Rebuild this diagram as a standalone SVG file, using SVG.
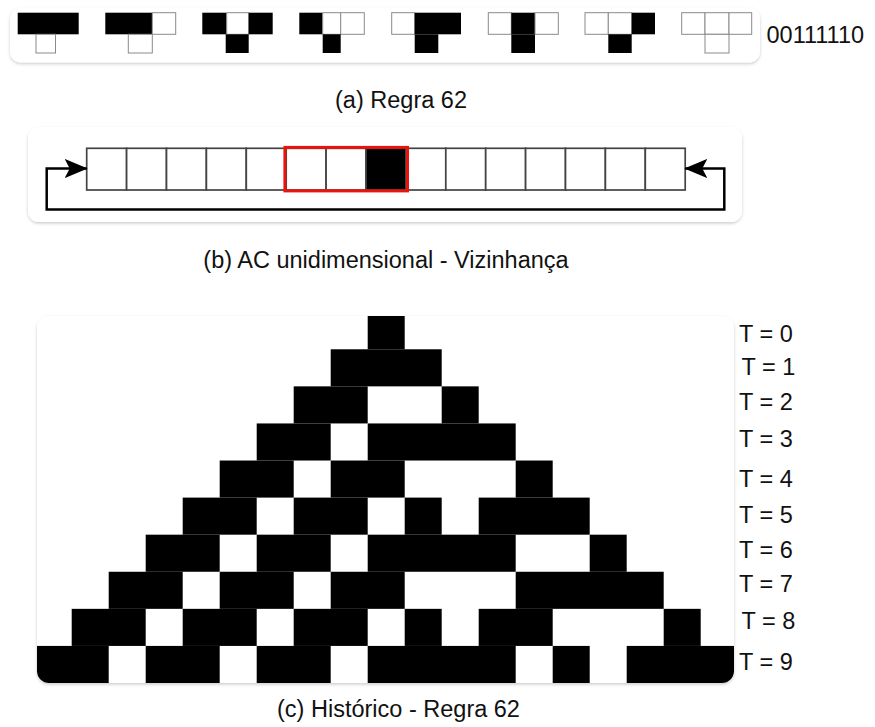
<svg xmlns="http://www.w3.org/2000/svg" width="875" height="727" viewBox="0 0 875 727">
<defs>
<style>
text{font-family:"Liberation Sans",Arial,sans-serif;font-size:23.5px;fill:#111}
.card{fill:#fff;filter:url(#sh)}
.w{fill:#fff;stroke:#8a8a8a;stroke-width:1}
.k{fill:#000}
.bc{fill:#fff;stroke:#444;stroke-width:1.7}
.g rect{fill:#000}
</style>
<filter id="sh" x="-5%" y="-10%" width="110%" height="125%">
<feDropShadow dx="0" dy="1.5" stdDeviation="1.8" flood-color="#000" flood-opacity="0.2"/>
</filter>
<marker id="ah" viewBox="0 0 23 19" refX="22" refY="9.5" markerWidth="23" markerHeight="19" markerUnits="userSpaceOnUse" orient="auto-start-reverse">
<path d="M0,0 L23,9.5 L0,19 L5,9.5 z" fill="#000"/>
</marker>
<clipPath id="cc"><rect x="37" y="316" width="697" height="367" rx="12"/></clipPath>
</defs>
<rect width="875" height="727" fill="#fff"/>

<g id="panel-a">
<rect class="card" x="10" y="7.5" width="750" height="55" rx="11"/>
<g id="p111">
<rect class="k" x="17.7" y="12.7" width="61" height="21.6"/>
<rect class="w" x="36" y="34.3" width="19.5" height="18.7"/>
</g>
<g id="p110">
<rect class="k" x="105.3" y="12.7" width="47" height="21.6"/>
<rect class="w" x="152.3" y="12.7" width="23.4" height="21.6"/>
<rect class="w" x="128.3" y="34.3" width="24" height="18.7"/>
</g>
<g id="p101">
<rect class="k" x="202.3" y="12.7" width="24.4" height="21.6"/>
<rect class="w" x="226.7" y="12.7" width="22" height="21.6"/>
<rect class="k" x="248.7" y="12.7" width="24" height="21.6"/>
<rect class="k" x="225.7" y="34.3" width="23" height="18.7"/>
</g>
<g id="p100">
<rect class="k" x="299.3" y="12.7" width="23.4" height="21.6"/>
<rect class="w" x="322.7" y="12.7" width="18" height="21.6"/>
<rect class="w" x="340.7" y="12.7" width="23.6" height="21.6"/>
<rect class="k" x="322.7" y="34.3" width="18" height="18.7"/>
</g>
<g id="p011">
<rect class="w" x="391.7" y="12.7" width="23" height="21.6"/>
<rect class="k" x="414.7" y="12.7" width="46.3" height="21.6"/>
<rect class="k" x="414.7" y="34.3" width="23.6" height="18.7"/>
</g>
<g id="p010">
<rect class="w" x="488.3" y="12.7" width="23" height="21.6"/>
<rect class="k" x="511.3" y="12.7" width="23.7" height="21.6"/>
<rect class="w" x="535" y="12.7" width="23.3" height="21.6"/>
<rect class="k" x="511.3" y="34.3" width="23.7" height="18.7"/>
</g>
<g id="p001">
<rect class="w" x="585" y="12.7" width="23.3" height="21.6"/>
<rect class="w" x="608.3" y="12.7" width="23.4" height="21.6"/>
<rect class="k" x="631.7" y="12.7" width="23.3" height="21.6"/>
<rect class="k" x="608.3" y="34.3" width="23.4" height="18.7"/>
</g>
<g id="p000">
<rect class="w" x="681.7" y="12.7" width="23.3" height="21.6"/>
<rect class="w" x="705" y="12.7" width="24" height="21.6"/>
<rect class="w" x="729" y="12.7" width="22.7" height="21.6"/>
<rect class="w" x="705" y="34.3" width="24" height="18.7"/>
</g>
<text x="766.5" y="42.5">00111110</text>
<text x="401" y="107.5" text-anchor="middle">(a) Regra 62</text>
</g>

<g id="panel-b">
<rect class="card" x="28" y="127" width="714" height="95" rx="11"/>
<g id="cells">
<rect class="bc" x="86.7" y="148.3" width="39.9" height="41.7"/>
<rect class="bc" x="126.6" y="148.3" width="39.9" height="41.7"/>
<rect class="bc" x="166.5" y="148.3" width="39.9" height="41.7"/>
<rect class="bc" x="206.4" y="148.3" width="39.9" height="41.7"/>
<rect class="bc" x="246.3" y="148.3" width="39.9" height="41.7"/>
<rect class="bc" x="286.2" y="148.3" width="39.9" height="41.7"/>
<rect class="bc" x="326.1" y="148.3" width="39.9" height="41.7"/>
<rect class="bc" x="366" y="148.3" width="39.9" height="41.7" style="fill:#000"/>
<rect class="bc" x="405.9" y="148.3" width="39.9" height="41.7"/>
<rect class="bc" x="445.8" y="148.3" width="39.9" height="41.7"/>
<rect class="bc" x="485.7" y="148.3" width="39.9" height="41.7"/>
<rect class="bc" x="525.6" y="148.3" width="39.9" height="41.7"/>
<rect class="bc" x="565.5" y="148.3" width="39.9" height="41.7"/>
<rect class="bc" x="605.4" y="148.3" width="39.9" height="41.7"/>
<rect class="bc" x="645.3" y="148.3" width="39.9" height="41.7"/>
</g>
<rect id="neighbourhood" x="284.9" y="147.4" width="122.6" height="43.5" fill="none" stroke="#e8150e" stroke-width="3"/>
<text x="386" y="267.5" text-anchor="middle">(b) AC unidimensional - Vizinhança</text>
</g>

<g id="connectors">
<path d="M86.7,168.5 H46.7 V209.5 H724.3 V168.5 H685.3" fill="none" stroke="#000" stroke-width="2.5" marker-start="url(#ah)" marker-end="url(#ah)"/>
</g>

<g id="panel-c">
<rect class="card" x="37" y="316" width="697" height="367" rx="12"/>
<g class="g" clip-path="url(#cc)">
<g id="t0"><rect x="367.7" y="312.2" width="37" height="37.08"/></g>
<g id="t1"><rect x="330.7" y="349.28" width="111" height="37.08"/></g>
<g id="t2"><rect x="293.7" y="386.36" width="74" height="37.08"/><rect x="441.7" y="386.36" width="37" height="37.08"/></g>
<g id="t3"><rect x="256.7" y="423.44" width="74" height="37.08"/><rect x="367.7" y="423.44" width="148" height="37.08"/></g>
<g id="t4"><rect x="219.7" y="460.52" width="74" height="37.08"/><rect x="330.7" y="460.52" width="74" height="37.08"/><rect x="515.7" y="460.52" width="37" height="37.08"/></g>
<g id="t5"><rect x="182.7" y="497.6" width="74" height="37.08"/><rect x="293.7" y="497.6" width="74" height="37.08"/><rect x="404.7" y="497.6" width="37" height="37.08"/><rect x="478.7" y="497.6" width="111" height="37.08"/></g>
<g id="t6"><rect x="145.7" y="534.68" width="74" height="37.08"/><rect x="256.7" y="534.68" width="74" height="37.08"/><rect x="367.7" y="534.68" width="148" height="37.08"/><rect x="589.7" y="534.68" width="37" height="37.08"/></g>
<g id="t7"><rect x="108.7" y="571.76" width="74" height="37.08"/><rect x="219.7" y="571.76" width="74" height="37.08"/><rect x="330.7" y="571.76" width="74" height="37.08"/><rect x="515.7" y="571.76" width="148" height="37.08"/></g>
<g id="t8"><rect x="71.7" y="608.84" width="74" height="37.08"/><rect x="182.7" y="608.84" width="74" height="37.08"/><rect x="293.7" y="608.84" width="74" height="37.08"/><rect x="404.7" y="608.84" width="37" height="37.08"/><rect x="478.7" y="608.84" width="74" height="37.08"/><rect x="663.7" y="608.84" width="37" height="37.08"/></g>
<g id="t9"><rect x="34.7" y="645.92" width="74" height="37.08"/><rect x="145.7" y="645.92" width="74" height="37.08"/><rect x="256.7" y="645.92" width="74" height="37.08"/><rect x="367.7" y="645.92" width="148" height="37.08"/><rect x="552.7" y="645.92" width="37" height="37.08"/><rect x="626.7" y="645.92" width="111" height="37.08"/></g>
</g>
<g id="time-labels">
<text x="739" y="342">T = 0</text>
<text x="741.5" y="375">T = 1</text>
<text x="739" y="410">T = 2</text>
<text x="739" y="447">T = 3</text>
<text x="739" y="487">T = 4</text>
<text x="739" y="523">T = 5</text>
<text x="739" y="558">T = 6</text>
<text x="739" y="592">T = 7</text>
<text x="741.5" y="629">T = 8</text>
<text x="739" y="670">T = 9</text>
</g>
<text x="398.5" y="717" text-anchor="middle">(c) Histórico - Regra 62</text>
</g>
</svg>
